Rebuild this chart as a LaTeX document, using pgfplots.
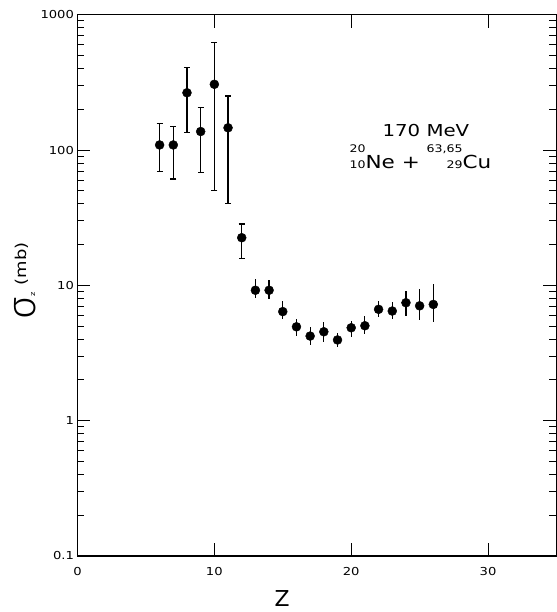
\documentclass[border=0pt]{standalone}
\usepackage{fontspec}
\setmainfont{DejaVu Sans}[FakeStretch=1.2]
\newfontfamily\plainfont{DejaVu Sans}
\IfFontExistsTF{Fira Sans Light}{\newfontfamily\sigfont{Fira Sans Light}}{%
  \IfFontExistsTF{FiraSans-Light}{\newfontfamily\sigfont{FiraSans-Light}}{\newfontfamily\sigfont{Fira Sans}}}
\usepackage{pgfplots}
\usepackage{pgfplotstable}
\pgfplotsset{compat=1.18}

\pgfplotstableread{
Z  s     hi    lo
6  109   156   69
7  109   150   61
8  265   405   134
9  137   206   68
10 306   621   50
11 146   251   40
12 22.5  28.4  15.8
}\capped
\pgfplotstableread{
Z  s     hi    lo
13 9.2   11.1  8.0
14 9.2   10.9  7.9
15 6.4   7.7   5.6
16 4.94  5.66  4.22
17 4.22  4.90  3.64
18 4.54  5.38  3.81
19 3.95  4.42  3.48
20 4.86  5.42  4.13
21 5.03  5.90  4.37
22 6.65  7.65  5.84
23 6.46  7.57  5.61
24 7.44  9.12  5.90
25 7.06  9.33  5.53
26 7.23  10.2  5.38
}\plain

\newcommand\iso[3]{{\fontsize{10.5}{16}\selectfont\begin{tabular}[b]{@{}r@{}}#1\\#2\end{tabular}}#3}

\begin{document}
\begin{tikzpicture}
\begin{axis}[
  scale only axis,
  width=479bp, height=541.3bp,
  xmin=0, xmax=35,
  ymode=log, ymin=0.1, ymax=1000,
  xtick={0,10,20,30},
  ytick={0.1,1,10,100,1000},
  yticklabels={0.1,1,10,100,1000},
  /pgf/number format/assume math mode=true,
  tick label style={font=\fontsize{11}{12}\selectfont, black},
  xticklabel style={yshift=-8bp},
  tick align=inside,
  major tick length=13bp, minor tick length=7bp,
  axis line style={line width=1.2bp, black},
  every tick/.style={line width=0.9bp, black},
  xlabel={Z},
  ylabel={{\sigfont\fontsize{40}{40}\selectfont σ}{\fontsize{7}{7}\selectfont z}\hspace{7bp}\raisebox{9bp}{(mb)}},
  xlabel style={font=\plainfont\fontsize{22}{22}\selectfont, inner sep=0pt, at={(axis description cs:0.427,-0.079)}, anchor=center},
  ylabel style={font=\fontsize{15}{15}\selectfont, inner sep=0pt, at={(axis description cs:-0.110,0.508)}, anchor=center},
  clip=false,
]
\addplot[black, only marks, mark=*, mark size=4.5bp,
  error bars/.cd, y dir=both, y explicit,
  error bar style={line width=1.2bp, black},
  error mark=-, error mark options={rotate=90, mark size=3bp, line width=1.2bp, black}]
  table[x=Z, y=s, y error plus expr=\thisrow{hi}-\thisrow{s}, y error minus expr=\thisrow{s}-\thisrow{lo}] {\capped};
\addplot[black, only marks, mark=*, mark size=4.5bp,
  error bars/.cd, y dir=both, y explicit,
  error bar style={line width=1.2bp, black},
  error mark=none]
  table[x=Z, y=s, y error plus expr=\thisrow{hi}-\thisrow{s}, y error minus expr=\thisrow{s}-\thisrow{lo}] {\plain};
\node[anchor=base, font=\fontsize{16.5}{17}\selectfont] at (axis cs:25.46,126.8) {170 MeV};
\node[anchor=base, font=\fontsize{18}{18}\selectfont] at (axis cs:25.06,73) {\iso{20}{10}{Ne} + \iso{63,65}{29}{Cu}};
\end{axis}
\pgfresetboundingbox
\useasboundingbox ([xshift=-77.5bp,yshift=-56bp]current axis.south west) rectangle ([xshift=0.5bp,yshift=14.7bp]current axis.north east);
\end{tikzpicture}
\end{document}
